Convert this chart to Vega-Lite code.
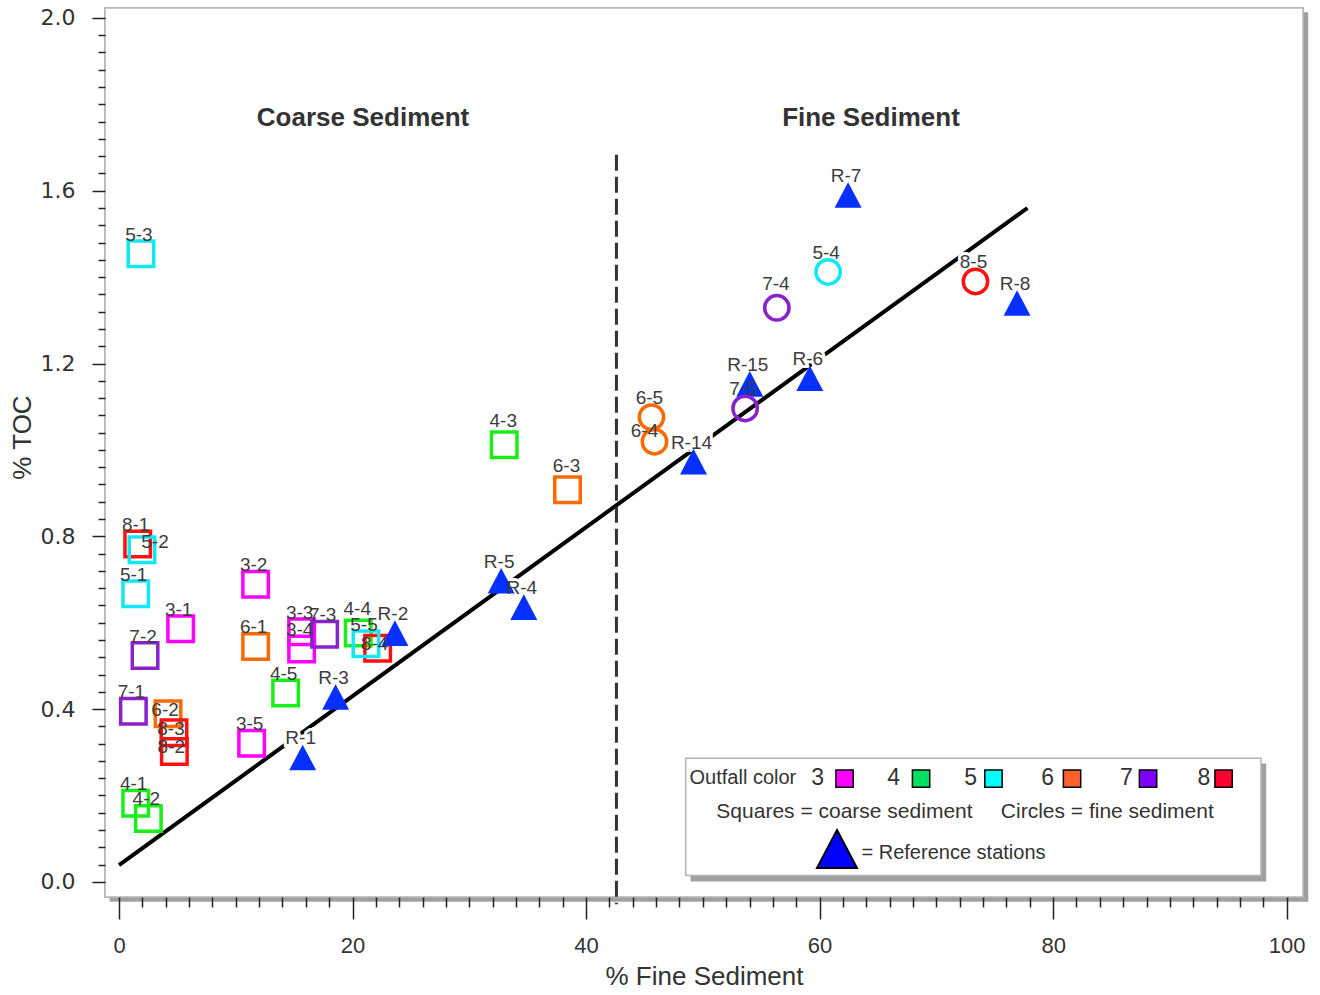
{
  "$schema": "https://vega.github.io/schema/vega-lite/v6.json",
  "width": 1198,
  "height": 889,
  "autosize": {"type": "none"},
  "padding": {"left": 105, "top": 8, "right": 17, "bottom": 98},
  "background": "white",
  "config": {"view": {"stroke": null}},
  "datasets": {
    "pts": [
      {"id": "5-3", "x": 1.88, "y": 1.454, "outfall": "5", "sed": "coarse"},
      {"id": "8-1", "x": 1.6, "y": 0.782, "outfall": "8", "sed": "coarse"},
      {"id": "5-2", "x": 1.97, "y": 0.769, "outfall": "5", "sed": "coarse"},
      {"id": "5-1", "x": 1.43, "y": 0.667, "outfall": "5", "sed": "coarse"},
      {"id": "3-1", "x": 5.28, "y": 0.586, "outfall": "3", "sed": "coarse"},
      {"id": "7-2", "x": 2.23, "y": 0.524, "outfall": "7", "sed": "coarse"},
      {"id": "7-1", "x": 1.23, "y": 0.395, "outfall": "7", "sed": "coarse"},
      {"id": "6-2", "x": 4.2, "y": 0.389, "outfall": "6", "sed": "coarse"},
      {"id": "8-3", "x": 4.71, "y": 0.345, "outfall": "8", "sed": "coarse"},
      {"id": "8-2", "x": 4.74, "y": 0.302, "outfall": "8", "sed": "coarse"},
      {"id": "4-1", "x": 1.43, "y": 0.182, "outfall": "4", "sed": "coarse"},
      {"id": "4-2", "x": 2.51, "y": 0.147, "outfall": "4", "sed": "coarse"},
      {"id": "3-2", "x": 11.7, "y": 0.689, "outfall": "3", "sed": "coarse"},
      {"id": "6-1", "x": 11.7, "y": 0.545, "outfall": "6", "sed": "coarse"},
      {"id": "3-3", "x": 15.64, "y": 0.579, "outfall": "3", "sed": "coarse"},
      {"id": "3-4", "x": 15.64, "y": 0.539, "outfall": "3", "sed": "coarse"},
      {"id": "7-3", "x": 17.61, "y": 0.573, "outfall": "7", "sed": "coarse"},
      {"id": "4-4", "x": 20.49, "y": 0.576, "outfall": "4", "sed": "coarse"},
      {"id": "8-4", "x": 22.15, "y": 0.541, "outfall": "8", "sed": "coarse"},
      {"id": "5-5", "x": 21.15, "y": 0.551, "outfall": "5", "sed": "coarse"},
      {"id": "4-5", "x": 14.27, "y": 0.437, "outfall": "4", "sed": "coarse"},
      {"id": "3-5", "x": 11.36, "y": 0.321, "outfall": "3", "sed": "coarse"},
      {"id": "4-3", "x": 32.99, "y": 1.012, "outfall": "4", "sed": "coarse"},
      {"id": "6-3", "x": 38.41, "y": 0.908, "outfall": "6", "sed": "coarse"},
      {"id": "R-1", "x": 15.73, "y": 0.288, "outfall": "R", "sed": "ref"},
      {"id": "R-3", "x": 18.55, "y": 0.428, "outfall": "R", "sed": "ref"},
      {"id": "R-2", "x": 23.63, "y": 0.576, "outfall": "R", "sed": "ref"},
      {"id": "R-5", "x": 32.73, "y": 0.697, "outfall": "R", "sed": "ref"},
      {"id": "R-4", "x": 34.67, "y": 0.636, "outfall": "R", "sed": "ref"},
      {"id": "R-14", "x": 49.2, "y": 0.973, "outfall": "R", "sed": "ref"},
      {"id": "R-15", "x": 54.02, "y": 1.153, "outfall": "R", "sed": "ref"},
      {"id": "R-6", "x": 59.16, "y": 1.166, "outfall": "R", "sed": "ref"},
      {"id": "R-7", "x": 62.44, "y": 1.59, "outfall": "R", "sed": "ref"},
      {"id": "R-8", "x": 76.91, "y": 1.34, "outfall": "R", "sed": "ref"},
      {"id": "6-5", "x": 45.6, "y": 1.076, "outfall": "6", "sed": "fine"},
      {"id": "6-4", "x": 45.86, "y": 1.019, "outfall": "6", "sed": "fine"},
      {"id": "7-5", "x": 53.62, "y": 1.096, "outfall": "7", "sed": "fine"},
      {"id": "7-4", "x": 56.34, "y": 1.329, "outfall": "7", "sed": "fine"},
      {"id": "5-4", "x": 60.73, "y": 1.412, "outfall": "5", "sed": "fine"},
      {"id": "8-5", "x": 73.35, "y": 1.39, "outfall": "8", "sed": "fine"}
    ],
    "fit": [
      {"x": 0, "y": 0.039},
      {"x": 77.8, "y": 1.56}
    ]
  },
  "layer": [
    {
      "data": {"values": [{}]},
      "mark": {"type": "rect", "fill": "#a0a0a0"},
      "encoding": {
        "x": {"datum": -0.8, "type": "quantitative"},
        "x2": {"datum": 101.85},
        "y": {"datum": 2.013, "type": "quantitative"},
        "y2": {"datum": -0.046}
      }
    },
    {
      "data": {"name": "fit"},
      "mark": {"type": "rect", "fill": "white", "stroke": "#b4b4b4", "strokeWidth": 1.5},
      "encoding": {
        "x": {
          "datum": -1.2,
          "type": "quantitative",
          "scale": {"domain": [-1.2, 101.4], "nice": false, "zero": false},
          "axis": {
            "values": [0,2,4,6,8,10,12,14,16,18,20,22,24,26,28,30,32,34,36,38,40,42,44,46,48,50,52,54,56,58,60,62,64,66,68,70,72,74,76,78,80,82,84,86,88,90,92,94,96,98,100],
            "tickCount": 200,
            "labelExpr": "datum.value % 20 === 0 ? format(datum.value, 'd') : ''",
            "tickSize": {"condition": {"test": "datum.value % 20 === 0", "value": 22}, "value": 10},
            "tickColor": "#222",
            "tickWidth": 1.5,
            "domain": false,
            "grid": false,
            "labelFont": "Liberation Sans",
            "labelFontSize": 22,
            "labelColor": "#333",
            "labelPadding": 16,
            "labelOverlap": false,
            "labelFlush": false,
            "title": "% Fine Sediment",
            "titleFont": "Liberation Sans",
            "titleFontSize": 26,
            "titleFontWeight": "normal",
            "titleColor": "#333",
            "titleBaseline": "alphabetic",
            "titleY": 87,
            "zindex": 1
          }
        },
        "x2": {"datum": 101.4},
        "y": {
          "datum": 2.023,
          "type": "quantitative",
          "scale": {"domain": [-0.035, 2.023], "nice": false, "zero": false},
          "axis": {
            "values": [0,0.04,0.08,0.12,0.16,0.2,0.24,0.28,0.32,0.36,0.4,0.44,0.48,0.52,0.56,0.6,0.64,0.68,0.72,0.76,0.8,0.84,0.88,0.92,0.96,1,1.04,1.08,1.12,1.16,1.2,1.24,1.28,1.32,1.36,1.4,1.44,1.48,1.52,1.56,1.6,1.64,1.68,1.72,1.76,1.8,1.84,1.88,1.92,1.96,2],
            "tickCount": 200,
            "labelExpr": "round(datum.value*100) % 40 === 0 ? format(datum.value, '.1f') : ''",
            "tickSize": {"condition": {"test": "round(datum.value*100) % 40 === 0", "value": 13}, "value": 7},
            "tickColor": "#222",
            "tickWidth": 1.5,
            "domain": false,
            "grid": false,
            "labelFont": "DejaVu Sans",
            "labelFontSize": 22,
            "labelColor": "#333",
            "labelPadding": 17,
            "labelOverlap": false,
            "labelFlush": false,
            "title": "% TOC",
            "titleFont": "Liberation Sans",
            "titleFontSize": 26,
            "titleFontWeight": "normal",
            "titleColor": "#333",
            "titleX": -83,
            "titleY": 429,
            "titleBaseline": "middle",
            "titleAlign": "center",
            "zindex": 1
          }
        },
        "y2": {"datum": -0.035}
      }
    },
    {
      "data": {"name": "fit"},
      "mark": {"type": "line", "color": "black", "strokeWidth": 4},
      "encoding": {
        "x": {"field": "x", "type": "quantitative"},
        "y": {"field": "y", "type": "quantitative"}
      }
    },
    {
      "data": {"values": [{}]},
      "mark": {"type": "rule", "color": "#333", "strokeWidth": 3, "strokeDash": [16, 6]},
      "encoding": {
        "x": {"datum": 42.6, "type": "quantitative"},
        "y": {"datum": 1.683, "type": "quantitative"},
        "y2": {"datum": -0.052}
      }
    },
    {
      "data": {"name": "pts"},
      "transform": [{"filter": "indexof(['6-2','8-3','8-2','8-4','5-2','6-4','4-4','4-3','6-3','7-4'], datum.id) < 0"}],
      "mark": {"type": "text", "dx": -2, "dy": -19, "font": "Liberation Sans", "fontSize": 19, "fill": "white", "stroke": "white", "strokeWidth": 6},
      "encoding": {
        "x": {"field": "x", "type": "quantitative"},
        "y": {"field": "y", "type": "quantitative"},
        "text": {"field": "id"}
      }
    },
    {
      "data": {"name": "pts"},
      "transform": [{"filter": "datum.sed === 'coarse'"}],
      "mark": {"type": "point", "shape": "square", "filled": false, "size": 650, "strokeWidth": 3.5, "opacity": 1},
      "encoding": {
        "x": {"field": "x", "type": "quantitative"},
        "y": {"field": "y", "type": "quantitative"},
        "color": {
          "field": "outfall",
          "type": "nominal",
          "scale": {"domain": ["3", "4", "5", "6", "7", "8"], "range": ["#ff00ff", "#1aee1a", "#11e8f5", "#ff6a00", "#8a22cc", "#ff1111"]},
          "legend": null
        }
      }
    },
    {
      "data": {"name": "pts"},
      "transform": [{"filter": "datum.sed === 'ref'"}],
      "mark": {"type": "point", "shape": "M0,-0.95L1,0.95L-1,0.95Z", "filled": true, "size": 729, "fill": "#0530ff", "opacity": 1, "strokeWidth": 0},
      "encoding": {
        "x": {"field": "x", "type": "quantitative"},
        "y": {"field": "y", "type": "quantitative"}
      }
    },
    {
      "data": {"name": "pts"},
      "transform": [{"filter": "datum.sed === 'fine'"}],
      "mark": {"type": "point", "shape": "circle", "filled": false, "size": 594, "strokeWidth": 3.5, "opacity": 1},
      "encoding": {
        "x": {"field": "x", "type": "quantitative"},
        "y": {"field": "y", "type": "quantitative"},
        "color": {"field": "outfall", "type": "nominal", "legend": null}
      }
    },
    {
      "data": {"name": "pts"},
      "transform": [{"filter": "indexof(['6-2','8-3','8-2','8-4','5-2','6-4','4-4','4-3','6-3','7-4'], datum.id) < 0"}],
      "mark": {"type": "text", "dx": -2, "dy": -19, "font": "Liberation Sans", "fontSize": 19, "fill": "#3c3c3c"},
      "encoding": {
        "x": {"field": "x", "type": "quantitative"},
        "y": {"field": "y", "type": "quantitative"},
        "text": {"field": "id"}
      }
    },
    {
      "data": {"name": "pts"},
      "transform": [{"filter": "indexof(['4-4','4-3','6-3','7-4'], datum.id) >= 0"}],
      "mark": {"type": "text", "dx": -1, "dy": -24, "font": "Liberation Sans", "fontSize": 19, "fill": "#3c3c3c"},
      "encoding": {
        "x": {"field": "x", "type": "quantitative"},
        "y": {"field": "y", "type": "quantitative"},
        "text": {"field": "id"}
      }
    },
    {
      "data": {"name": "pts"},
      "transform": [{"filter": "indexof(['6-2','8-3','8-2','8-4'], datum.id) >= 0"}],
      "mark": {"type": "text", "dx": -3, "dy": -4, "font": "Liberation Sans", "fontSize": 19, "fill": "#3c3c3c"},
      "encoding": {
        "x": {"field": "x", "type": "quantitative"},
        "y": {"field": "y", "type": "quantitative"},
        "text": {"field": "id"}
      }
    },
    {
      "data": {"name": "pts"},
      "transform": [{"filter": "datum.id === '5-2'"}],
      "mark": {"type": "text", "dx": 13, "dy": -8, "font": "Liberation Sans", "fontSize": 19, "fill": "#3c3c3c"},
      "encoding": {
        "x": {"field": "x", "type": "quantitative"},
        "y": {"field": "y", "type": "quantitative"},
        "text": {"field": "id"}
      }
    },
    {
      "data": {"name": "pts"},
      "transform": [{"filter": "datum.id === '6-4'"}],
      "mark": {"type": "text", "dx": -10, "dy": -11, "font": "Liberation Sans", "fontSize": 19, "fill": "#3c3c3c"},
      "encoding": {
        "x": {"field": "x", "type": "quantitative"},
        "y": {"field": "y", "type": "quantitative"},
        "text": {"field": "id"}
      }
    },
    {
      "data": {"values": [{}]},
      "mark": {"type": "text", "text": "Coarse Sediment", "font": "Liberation Sans", "fontWeight": "bold", "fontSize": 26, "fill": "#333", "baseline": "middle"},
      "encoding": {"x": {"datum": 20.9, "type": "quantitative"}, "y": {"datum": 1.769, "type": "quantitative"}}
    },
    {
      "data": {"values": [{}]},
      "mark": {"type": "text", "text": "Fine Sediment", "font": "Liberation Sans", "fontWeight": "bold", "fontSize": 26, "fill": "#333", "baseline": "middle"},
      "encoding": {"x": {"datum": 64.4, "type": "quantitative"}, "y": {"datum": 1.769, "type": "quantitative"}}
    },
    {
      "data": {"values": [{}]},
      "mark": {"type": "rect", "fill": "#a0a0a0"},
      "encoding": {
        "x": {"datum": 48.95, "type": "quantitative"},
        "x2": {"datum": 98.25},
        "y": {"datum": 0.274, "type": "quantitative"},
        "y2": {"datum": 0.001}
      }
    },
    {
      "data": {"values": [{}]},
      "mark": {"type": "rect", "fill": "white", "stroke": "#b4b4b4", "strokeWidth": 1.5},
      "encoding": {
        "x": {"datum": 48.53, "type": "quantitative"},
        "x2": {"datum": 97.8},
        "y": {"datum": 0.2863, "type": "quantitative"},
        "y2": {"datum": 0.0146}
      }
    },
    {
      "data": {"values": [{}]},
      "mark": {"type": "text", "text": "Outfall color", "align": "left", "baseline": "middle", "font": "Liberation Sans", "fontSize": 20, "fill": "#333"},
      "encoding": {"x": {"datum": 48.86, "type": "quantitative"}, "y": {"datum": 0.2414, "type": "quantitative"}}
    },
    {
      "data": {"values": [{}]},
      "mark": {"type": "text", "text": "3", "baseline": "middle", "font": "Liberation Sans", "fontSize": 23, "fill": "#333"},
      "encoding": {"x": {"datum": 59.83, "type": "quantitative"}, "y": {"datum": 0.2414, "type": "quantitative"}}
    },
    {
      "data": {"values": [{}]},
      "mark": {"type": "text", "text": "4", "baseline": "middle", "font": "Liberation Sans", "fontSize": 23, "fill": "#333"},
      "encoding": {"x": {"datum": 66.35, "type": "quantitative"}, "y": {"datum": 0.2414, "type": "quantitative"}}
    },
    {
      "data": {"values": [{}]},
      "mark": {"type": "text", "text": "5", "baseline": "middle", "font": "Liberation Sans", "fontSize": 23, "fill": "#333"},
      "encoding": {"x": {"datum": 72.94, "type": "quantitative"}, "y": {"datum": 0.2414, "type": "quantitative"}}
    },
    {
      "data": {"values": [{}]},
      "mark": {"type": "text", "text": "6", "baseline": "middle", "font": "Liberation Sans", "fontSize": 23, "fill": "#333"},
      "encoding": {"x": {"datum": 79.53, "type": "quantitative"}, "y": {"datum": 0.2414, "type": "quantitative"}}
    },
    {
      "data": {"values": [{}]},
      "mark": {"type": "text", "text": "7", "baseline": "middle", "font": "Liberation Sans", "fontSize": 23, "fill": "#333"},
      "encoding": {"x": {"datum": 86.27, "type": "quantitative"}, "y": {"datum": 0.2414, "type": "quantitative"}}
    },
    {
      "data": {"values": [{}]},
      "mark": {"type": "text", "text": "8", "baseline": "middle", "font": "Liberation Sans", "fontSize": 23, "fill": "#333"},
      "encoding": {"x": {"datum": 92.92, "type": "quantitative"}, "y": {"datum": 0.2414, "type": "quantitative"}}
    },
    {
      "data": {"values": [{}]},
      "mark": {"type": "point", "shape": "square", "filled": true, "size": 300, "fill": "#ff00ff", "stroke": "black", "strokeWidth": 1.5, "opacity": 1},
      "encoding": {"x": {"datum": 62.14, "type": "quantitative"}, "y": {"datum": 0.239, "type": "quantitative"}}
    },
    {
      "data": {"values": [{}]},
      "mark": {"type": "point", "shape": "square", "filled": true, "size": 300, "fill": "#00e060", "stroke": "black", "strokeWidth": 1.5, "opacity": 1},
      "encoding": {"x": {"datum": 68.69, "type": "quantitative"}, "y": {"datum": 0.239, "type": "quantitative"}}
    },
    {
      "data": {"values": [{}]},
      "mark": {"type": "point", "shape": "square", "filled": true, "size": 300, "fill": "#00ffff", "stroke": "black", "strokeWidth": 1.5, "opacity": 1},
      "encoding": {"x": {"datum": 74.89, "type": "quantitative"}, "y": {"datum": 0.239, "type": "quantitative"}}
    },
    {
      "data": {"values": [{}]},
      "mark": {"type": "point", "shape": "square", "filled": true, "size": 300, "fill": "#ff6030", "stroke": "black", "strokeWidth": 1.5, "opacity": 1},
      "encoding": {"x": {"datum": 81.62, "type": "quantitative"}, "y": {"datum": 0.239, "type": "quantitative"}}
    },
    {
      "data": {"values": [{}]},
      "mark": {"type": "point", "shape": "square", "filled": true, "size": 300, "fill": "#8000ff", "stroke": "black", "strokeWidth": 1.5, "opacity": 1},
      "encoding": {"x": {"datum": 88.13, "type": "quantitative"}, "y": {"datum": 0.239, "type": "quantitative"}}
    },
    {
      "data": {"values": [{}]},
      "mark": {"type": "point", "shape": "square", "filled": true, "size": 300, "fill": "#ff0030", "stroke": "black", "strokeWidth": 1.5, "opacity": 1},
      "encoding": {"x": {"datum": 94.6, "type": "quantitative"}, "y": {"datum": 0.239, "type": "quantitative"}}
    },
    {
      "data": {"values": [{}]},
      "mark": {"type": "text", "text": "Squares = coarse sediment", "baseline": "middle", "font": "Liberation Sans", "fontSize": 21, "fill": "#333"},
      "encoding": {"x": {"datum": 62.13, "type": "quantitative"}, "y": {"datum": 0.162, "type": "quantitative"}}
    },
    {
      "data": {"values": [{}]},
      "mark": {"type": "text", "text": "Circles = fine sediment", "baseline": "middle", "font": "Liberation Sans", "fontSize": 21, "fill": "#333"},
      "encoding": {"x": {"datum": 84.64, "type": "quantitative"}, "y": {"datum": 0.162, "type": "quantitative"}}
    },
    {
      "data": {"values": [{}]},
      "mark": {"type": "point", "shape": "M0,-0.95L1,0.95L-1,0.95Z", "filled": true, "size": 1600, "fill": "#0000ff", "stroke": "black", "strokeWidth": 2, "opacity": 1},
      "encoding": {"x": {"datum": 61.49, "type": "quantitative"}, "y": {"datum": 0.076, "type": "quantitative"}}
    },
    {
      "data": {"values": [{}]},
      "mark": {"type": "text", "text": "= Reference stations", "align": "left", "baseline": "middle", "font": "Liberation Sans", "fontSize": 20, "fill": "#333"},
      "encoding": {"x": {"datum": 63.59, "type": "quantitative"}, "y": {"datum": 0.068, "type": "quantitative"}}
    }
  ]
}
